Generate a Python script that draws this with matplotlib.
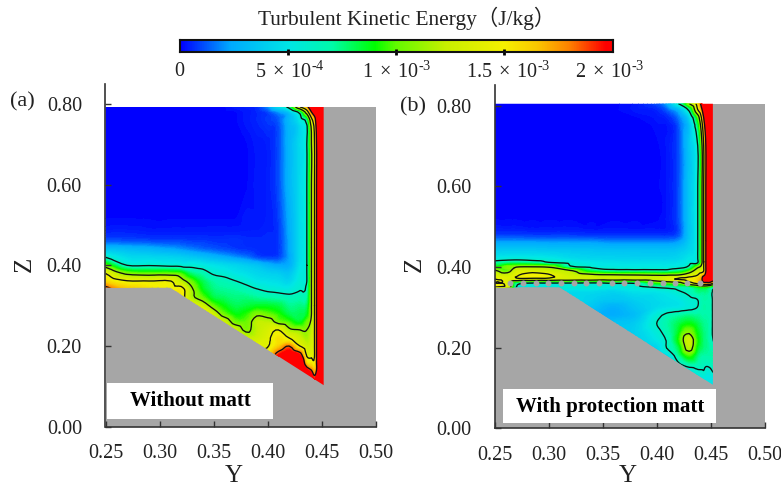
import matplotlib
matplotlib.use('Agg')
import matplotlib.pyplot as plt
import matplotlib.tri as mtri
import numpy as np
from matplotlib.colors import LinearSegmentedColormap
from matplotlib.patches import Polygon, Rectangle

plt.rcParams['font.family'] = ['Liberation Serif', 'Noto Sans CJK SC']
plt.rcParams['mathtext.fontset'] = 'custom'
plt.rcParams['mathtext.rm'] = 'Liberation Serif'

y_a = [.25, .27, .29, .31, .32, .33, .34, .35, .36, .37, .38, .39, .40, .41, .42, .43, .4364, .4407, .4435, .4454, .449, .453]
z_a = [.793, .78, .76, .70, .60, .52, .48, .46, .44, .42, .40, .38, .36, .34, .32, .30, .28, .26, .24, .22, .20, .18, .16, .14, .12, .10]
tke_a = [
    [.1]*9 + [.3, .4, .6, 1.8, 4.5, 7, 14, 17, 22, 25, 25, 25, 25],
    [.1]*10 + [.3, .5, .9, 2, 3.5, 7, 12.5, 18, 21, 23, 25, 25],
    [.1]*10 + [.3, .5, .8, 1.2, 3, 5, 7, 13, 16, 20, 23, 25],
    [.1]*11 + [.3, .4, 1, 2.8, 4.5, 6, 11, 14, 18, 23, 25],
    [.1]*11 + [.3, .4, 1, 2.8, 4.5, 6, 11, 14, 18, 23, 25],
    [.1]*10 + [.3, .3, .4, .8, 2.5, 4.5, 6, 11, 14, 18, 23, 25],
    [.5, .5] + [.4]*10 + [.5, .7, 2.4, 4.5, 6, 11, 14, 18, 23, 25],
    [1.2, 1.1, 1, .9, .9, .8, .8, .7, .7, .7, .6, .6, .6, .7, 2.3, 4.5, 6, 11, 14, 18, 23, 25],
    [3.3, 3, 2.7, 2.3, 2, 1.7, 1.4, 1.2, 1, .8, .7, .6, .6, .7, 2.3, 4.6, 6, 11, 14, 18, 23, 25],
    [6, 4.5, 4.3, 4.1, 3.9, 3.6, 3.2, 2.8, 2.4, 2, 1.6, 1, .8, .9, 2.2, 4.6, 6, 11, 14, 18, 23, 25],
    [10, 6, 5.9, 5.6, 5.5, 5.5, 5.2, 4.8, 4.5, 4.2, 3.8, 3.4, 2.7, 2.3, 2.5, 4.8, 6, 11, 14, 18, 23, 25],
    [14, 10.5, 10, 10, 9.5, 7.5, 6.8, 5.8, 5.5, 5, 4.7, 4.3, 4, 3.8, 3.5, 5.2, 6, 11, 14, 18, 23, 25],
    [16, 14.3, 14.2, 14.2, 12, 10, 8, 7, 6.6, 6.1, 5.6, 5, 4.8, 4.6, 4.2, 5.5, 6, 11, 14, 18, 23, 25],
    [19, 16.5, 15.5, 14.8, 15, 11.3, 8.7, 7.5, 7.2, 7, 6.6, 6.1, 5.7, 5.5, 5.3, 5.9, 6.5, 11, 14, 18, 23, 25],
    [19, 17, 16, 15, 15, 11.5, 10, 8.2, 7.8, 7.5, 7.5, 7.2, 7, 6.8, 6.5, 6.8, 7, 11, 14, 18, 23, 25],
    [19, 17, 16, 15, 15, 14, 12.5, 10, 8.8, 8, 8.2, 8.5, 8.5, 8.2, 7.3, 7.5, 7.8, 11, 14, 18, 23, 25],
    [15]*7 + [12.5, 10, 8.8, 9.2, 10.5, 10, 9.2, 8, 8, 8.5, 11, 14, 18, 23, 25],
    [15]*7 + [14, 12.5, 10.2, 10, 12, 12, 10.3, 9.5, 8.5, 10, 11.5, 14, 18, 23, 25],
    [15]*8 + [14, 12.5, 10.6, 12, 13, 14, 11.5, 11, 11, 12, 14, 18, 23, 25],
    [15]*9 + [14, 12.5, 12.5, 13.5, 15.5, 14, 12.5, 11.5, 12.5, 14, 18, 23, 25],
    [15]*10 + [14, 14, 13.8, 16, 18, 14, 12.5, 13, 14, 18, 23, 25],
    [15]*12 + [15, 19, 21, 19, 13.5, 13.5, 13.9, 18, 23, 25],
    [16]*12 + [16, 22, 24, 23, 15.5, 15, 14.5, 18, 23, 25],
    [16]*12 + [16, 22, 25, 25, 20, 18, 16.5, 18, 24, 25],
    [16]*12 + [16, 22, 25, 25, 25, 22, 19, 21, 25, 25],
    [25]*22,
]

y_b = [.25, .262, .27, .285, .30, .32, .34, .36, .38, .40, .41, .42, .43, .438, .442, .4435, .4455, .449, .453]
z_b = [.805, .79, .77, .70, .60, .52, .48, .46, .44, .42, .41, .40, .39, .38, .37, .36, .35, .34, .32, .30, .28, .26, .24, .22, .20, .18, .16, .14, .12, .10]
tke_b = [
    [.1]*8 + [.3, 1, 2.5, 6, 11, 15.5, 20, 23, 25, 25, 25],
    [.1]*8 + [.3, .5, 1.3, 2.8, 6.6, 14, 18, 21, 23, 25, 25],
    [.1]*9 + [.3, .5, 1.5, 4, 9.5, 15, 18, 21, 24, 25],
    [.1]*10 + [.3, 1, 3.5, 6, 11, 14, 18, 23, 25],
    [.1]*10 + [.3, 1, 3.5, 6, 11, 14, 18, 23, 25],
    [.1]*10 + [.3, 1, 3.5, 6, 11, 14, 18, 23, 25],
    [.8, .8, .8, .7, .7, .7, .6, .6, .6, .6, .6, 1, 3.5, 6, 11, 14, 18, 23, 25],
    [2.3, 2.3, 2.3, 2.3, 2.2, 2.2, 2.2, 2, 2, 2, 2, 2.3, 3.8, 6, 11, 14, 18, 23, 25],
    [3.8, 3.8, 3.8, 3.8, 3.7, 3.6, 3.5, 3.4, 3.4, 3.4, 3.4, 3.6, 4.3, 6, 11, 14, 18, 23, 25],
    [5.2, 5.5, 5.6, 5.4, 5.2, 4.6, 4.3, 4.2, 4.1, 4.1, 4.1, 4.3, 5, 6, 11, 14, 18, 23, 25],
    [7, 7.5, 7.6, 7.3, 6.3, 5.6, 5, 4.8, 4.7, 4.7, 4.7, 4.8, 5.5, 6, 11, 14, 18, 23, 25],
    [9, 10.5, 10.9, 11.1, 10.8, 6.5, 5.6, 5.3, 5.2, 5.2, 5.2, 5.4, 6.5, 10.5, 12, 14, 18, 23, 25],
    [11.5, 10, 13, 13, 12.5, 11.5, 8, 6.8, 6.7, 6.7, 6.7, 7.5, 9.5, 12.5, 13, 14, 18, 23, 25],
    [13, 12.5, 13.7, 15, 14.2, 12.5, 11.5, 11.2, 11, 10.8, 10.8, 11, 12.5, 14, 16, 17, 19, 23, 25],
    [14, 13.5, 13.5, 13.3, 13.3, 12.6, 12.4, 12.2, 12.2, 12.4, 13.6, 14.2, 15, 16, 18, 21, 22, 22, 22],
    [14, 13, 7, 6, 6, 6, 5.8, 6.2, 6.2, 9, 9.5, 10, 13, 15, 16.5, 17, 17, 17, 14],
    [14, 13, 6, 5.5, 5.5, 5.5, 5.5, 5.2, 5.5, 6.2, 6.5, 6.8, 7, 8.5, 9, 9, 9, 8, 7],
    [5, 5, 5, 5, 5, 4.5, 4.5, 4.2, 4.8, 5, 5.3, 5.9, 6.5, 7.5, 7.5, 7.5, 7.5, 7, 5.5],
    [5, 5, 5, 5, 5, 4.5, 4, 3.6, 4, 4.5, 4.8, 5, 5.7, 6.05, 6.8, 7, 7, 6.8, 5.5],
    [5, 5, 5, 5, 5, 4.5, 3.5, 2.6, 3.5, 4.5, 4.8, 5, 5.5, 6.05, 6.8, 7, 7, 6.8, 5.5],
    [5, 5, 5, 5, 5, 5, 3, 2.5, 3.2, 5.5, 6.5, 7, 7.4, 7.2, 7, 7, 7, 6.8, 5.5],
    [5, 5, 5, 5, 5, 5, 3.5, 3.5, 3.8, 6, 7, 8, 8.8, 8, 7.5, 7.3, 7.2, 6.8, 5.5],
    [5, 5, 5, 5, 5, 5, 3.5, 3.5, 4, 5.5, 6.8, 8.5, 10.5, 8.6, 7.8, 7.5, 7.3, 6.8, 5.5],
    [5, 5, 5, 5, 5, 5, 4, 4, 4, 5, 6.3, 9, 12.5, 9, 8, 7.6, 7.4, 6.8, 5.8],
    [5, 5, 5, 5, 5, 5, 4, 4, 4, 4.2, 6.2, 8, 12, 8.5, 7.8, 7.5, 7.4, 7, 6.5],
    [5, 5, 5, 5, 5, 5, 4, 4, 4, 4, 4.5, 7, 9.5, 7.5, 7, 7, 7, 7, 7],
    [5, 5, 5, 5, 5, 5, 4, 4, 4, 4, 4, 5.8, 7, 6.8, 6.5, 6.5, 6.3, 6.4, 6.5],
    [5, 5, 5, 5, 5, 5, 4, 4, 4, 4, 4, 5, 5, 5.7, 5.8, 5.9, 5.5, 5.5, 6.2],
    [5]*19,
    [5]*19,
]

# flow domain outlines
outline_a_y = [.25, .452, .452, .31, .25]
outline_a_z = [.7925, .7925, .103, .345, .345]
outline_b_y = [.25, .452, .452, .31, .25]
outline_b_z = [.8045, .8045, .108, .35, .35]

# protection matt cells
matt_y = [.2645, .2762, .288, .2997, .3114, .3231, .3349, .3466, .3583, .37, .382, .3938, .4055, .4169, .4283, .44]
matt_z = [.361]*16

contour_levels = [6, 11, 14, 18]
cmap_pos = [0, 2.3, 5, 7, 9, 10, 12.3, 15, 16.5, 18, 19.7, 20]
cmap_rgb = ['#0000ff', '#00aaff', '#00e6e6', '#00faaa', '#00ff00', '#64fa00', '#c8f000',
            '#f5f000', '#fac800', '#ff8200', '#ff0000', '#ff0000']
tke_cmap = LinearSegmentedColormap.from_list('tke', [(p/20, c) for p, c in zip(cmap_pos, cmap_rgb)])

W, H = 781, 487
gray = '#a6a6a6'
fig = plt.figure(figsize=(W/100, H/100), dpi=100)


def px_axes(left, right, top, bottom):
    return fig.add_axes([left/W, 1-bottom/H, (right-left)/W, (bottom-top)/H])


def draw_panel(ax, y, z, tke, oy, oz):
    ax.add_patch(Rectangle((.25, 0), .25, oz[0], fc=gray, ec='none', zorder=0))
    clip = Polygon(np.column_stack([oy, oz]), closed=True, transform=ax.transData)
    Y, Z = np.meshgrid(y, z)
    V = np.array(tke, dtype=float).ravel()
    # smooth the coarse table the way the picture's renderer does
    tri = mtri.Triangulation(Y.ravel(), Z.ravel())
    fine, fine_v = mtri.UniformTriRefiner(tri).refine_field(
        V, triinterpolator=mtri.CubicTriInterpolator(tri, V, kind='geom'), subdiv=2)
    cf = ax.tricontourf(fine, fine_v, levels=np.linspace(0, 20, 161), cmap=tke_cmap, extend='both',
                        antialiased=False, zorder=1)
    cf.set_clip_path(clip)
    cs = ax.tricontour(fine, fine_v, levels=contour_levels, colors='#101010', linewidths=.95, zorder=2)
    cs.set_clip_path(clip)
    ax.set_xlim(.25, .50)
    ax.set_ylim(0, .85)
    ax.set_xticks([.25, .30, .35, .40, .45, .50])
    ax.set_xticklabels(['0.25', '0.30', '0.35', '0.40', '0.45', '0.50'])
    ax.set_yticks([0, .2, .4, .6, .8])
    ax.set_yticklabels(['0.00', '0.20', '0.40', '0.60', '0.80'])
    ax.tick_params(axis='x', direction='in', length=4.5, width=1, color='#333333', pad=12.5, labelsize=14.5, labelcolor='#222222')
    ax.tick_params(axis='y', direction='in', length=4.5, width=1, color='#333333', pad=17, labelsize=14.5, labelcolor='#222222')
    ax.spines['top'].set_visible(False)
    ax.spines['right'].set_visible(False)
    for s in ['left', 'bottom']:
        ax.spines[s].set_linewidth(1.2)
        ax.spines[s].set_color('#333333')
    ax.set_axisbelow(False)
    ax.patch.set_alpha(0)


ax_a = px_axes(105.5, 375.5, 83.8, 426.7)
draw_panel(ax_a, y_a, z_a, tke_a, outline_a_y, outline_a_z)
ax_a.add_patch(Rectangle((.2514, .019), .1537, .089, fc='white', ec='none', zorder=3))

ax_b = px_axes(494.7, 764.7, 85.4, 428.3)
draw_panel(ax_b, y_b, z_b, tke_b, outline_b_y, outline_b_z)
ax_b.scatter(matt_y, matt_z, s=18, c=gray, linewidths=0, zorder=3)
ax_b.add_patch(Rectangle((.2577, .013), .1973, .0845, fc='white', ec='none', zorder=3))


def px_text(x, y, s, **kw):
    kw.setdefault('ha', 'center')
    kw.setdefault('va', 'center')
    kw.setdefault('color', '#222222')
    fig.text(x/W, 1-y/H, s, **kw)


px_text(190.7, 401, 'Without matt', fontsize=15, fontweight='bold', color='black', zorder=5)
px_text(610, 407, 'With protection matt', fontsize=15, fontweight='bold', color='black', zorder=5)
px_text(22.5, 102, '(a)', fontsize=16)
px_text(413, 107, '(b)', fontsize=16)
px_text(234, 476, 'Y', fontsize=18)
px_text(628, 476.5, 'Y', fontsize=18)
px_text(25, 264, 'Z', fontsize=18, rotation=90)
px_text(415, 264, 'Z', fontsize=18, rotation=90)

# colour scale
ax_c = px_axes(180, 612.5, 39.5, 52)
ax_c.imshow(np.linspace(0, 20, 512).reshape(1, -1), aspect='auto', cmap=tke_cmap, vmin=0, vmax=20,
            extent=[0, 20, 0, 1])
ax_c.set_yticks([])
ax_c.set_xticks([5, 10, 15])
ax_c.set_xticklabels([])
ax_c.tick_params(axis='x', direction='inout', length=4, width=2, color='black')
for s in ax_c.spines.values():
    s.set_linewidth(1.5)
    s.set_color('#111111')

px_text(407, 18, 'Turbulent Kinetic Energy（J/kg）', fontsize=15.4)
scale_x = [179, 290, 397, 508, 610]
scale_labels = ['0', r'5$\,\times\,$10$^{\text{-}4}$', r'1$\,\times\,$10$^{\text{-}3}$',
                r'1.5$\,\times\,$10$^{\text{-}3}$', r'2$\,\times\,$10$^{\text{-}3}$']
for x, s in zip(scale_x, scale_labels):
    px_text(x, 72, s, fontsize=14.5)

fig.savefig('out.png', dpi=100)
